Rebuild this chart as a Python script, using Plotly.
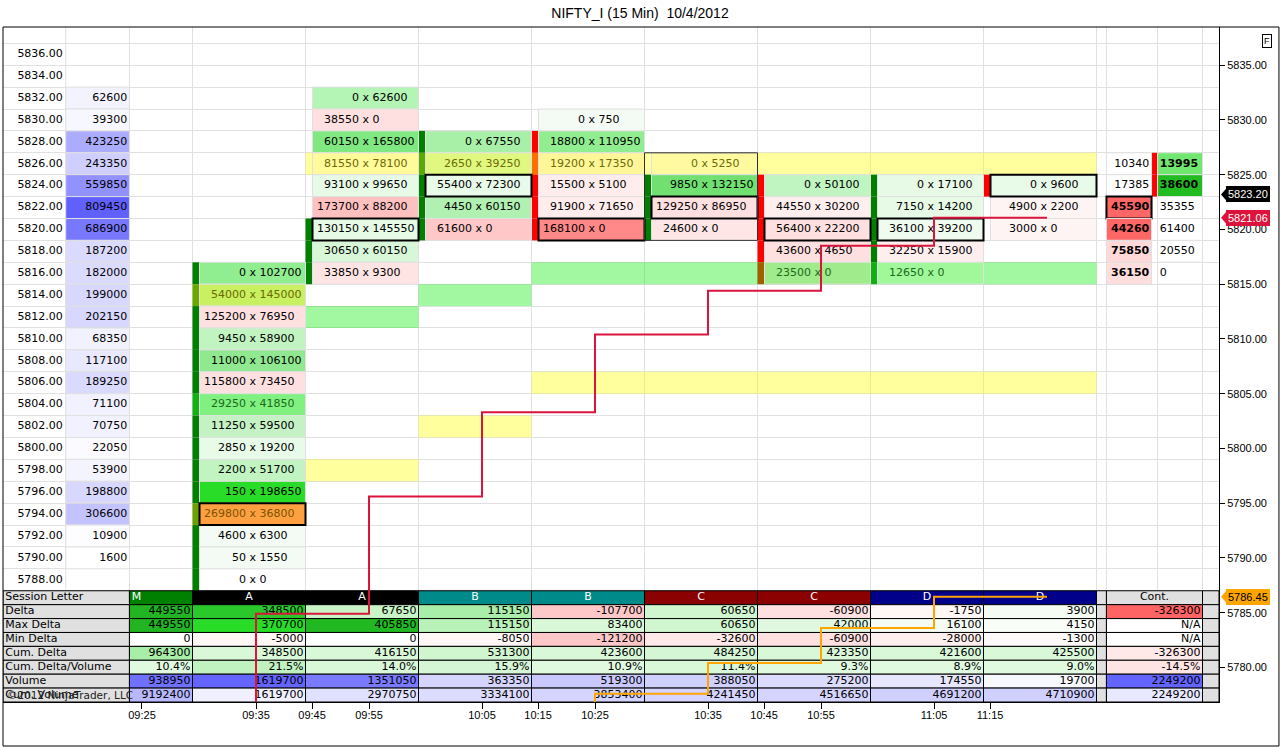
"""NIFTY_I 15-min footprint chart (10/4/2012) with session summary table."""

import plotly.graph_objects as go

# ── Data ────────────────────────────────────────────────────────────────────
ROW_PRICES = [5836, 5834, 5832, 5830, 5828, 5826, 5824, 5822, 5820, 5818, 5816, 5814, 5812,
              5810, 5808, 5806, 5804, 5802, 5800, 5798, 5796, 5794, 5792, 5790, 5788]

PROFILE_PRICES = [5832, 5830, 5828, 5826, 5824, 5822, 5820, 5818, 5816, 5814, 5812,
                  5810, 5808, 5806, 5804, 5802, 5800, 5798, 5796, 5794, 5792, 5790]
PROFILE_VOLUMES = [62600, 39300, 423250, 243350, 559850, 809450, 686900, 187200, 182000, 199000, 202150,
                   68350, 117100, 189250, 71100, 70750, 22050, 53900, 198800, 306600, 10900, 1600]

# footprint bars, one list per bar (bid x ask at each price)
FP_PRICES = [
    [5816, 5814, 5812, 5810, 5808, 5806, 5804, 5802, 5800, 5798, 5796, 5794, 5792, 5790, 5788],
    [5832, 5830, 5828, 5826, 5824, 5822, 5820, 5818, 5816],
    [5828, 5826, 5824, 5822, 5820],
    [5830, 5828, 5826, 5824, 5822, 5820],
    [5826, 5824, 5822, 5820],
    [5824, 5822, 5820, 5818, 5816],
    [5824, 5822, 5820, 5818, 5816],
    [5824, 5822, 5820],
]
FP_BIDS = [
    [0, 54000, 125200, 9450, 11000, 115800, 29250, 11250, 2850, 2200, 150, 269800, 4600, 50, 0],
    [0, 38550, 60150, 81550, 93100, 173700, 130150, 30650, 33850],
    [0, 2650, 55400, 4450, 61600],
    [0, 18800, 19200, 15500, 91900, 168100],
    [0, 9850, 129250, 24600],
    [0, 44550, 56400, 43600, 23500],
    [0, 7150, 36100, 32250, 12650],
    [0, 4900, 3000],
]
FP_ASKS = [
    [102700, 145000, 76950, 58900, 106100, 73450, 41850, 59500, 19200, 51700, 198650, 36800, 6300, 1550, 0],
    [62600, 0, 165800, 78100, 99650, 88200, 145550, 60150, 9300],
    [67550, 39250, 72300, 60150, 0],
    [750, 110950, 17350, 5100, 71650, 0],
    [5250, 132150, 86950, 0],
    [50100, 30200, 22200, 4650, 0],
    [17100, 14200, 39200, 15900, 0],
    [9600, 2200, 0],
]
# max-volume cells (boxed) per bar
FP_BOXED = [(0, 5794), (1, 5820), (2, 5824), (3, 5820), (4, 5822), (5, 5820), (6, 5820), (7, 5824)]
RANGE_BOX = (4, 5826, 5820)

# open/close body strip per bar
BODY_PRICES = [
    [5816, 5814, 5812, 5810, 5808, 5806, 5804, 5802, 5800, 5798, 5796, 5794, 5792, 5790, 5788],
    [5820, 5818, 5816],
    [5828, 5826, 5824, 5822, 5820],
    [5828, 5826, 5824, 5822, 5820],
    [5824, 5822, 5820],
    [5824, 5822, 5820, 5818, 5816],
    [5824, 5822, 5820, 5818, 5816],
    [5824],
]

# (price, first bar, last bar) of unfilled level highlights
HILITE_YELLOW = [(5826, 1, 7), (5806, 3, 7), (5802, 2, 2), (5798, 1, 1)]
HILITE_GREEN = [(5816, 3, 7), (5814, 2, 2), (5812, 1, 1)]

# right-hand ladder
LADDER_PRICES = [5826, 5824, 5822, 5820, 5818, 5816]
LADDER_BID = [103400, 173850, 455900, 442600, 75850, 36150]
LADDER_ASK = [139950, 386000, 353550, 61400, 20550, 0]

# step indicators
STEP_X = [-0.438, 0.562, 1.562, 2.562, 3.562, 4.562, 5.562, 6.562, 7.562]
RED_STEP = [5770.0, 5784.9, 5795.6, 5803.3, 5810.4, 5814.4, 5818.5, 5821.06, 5821.06]
ORANGE_STEP = [5770.0, 5777.6, 5780.4, 5783.6, 5786.45, 5786.45]
LAST_PRICE = 5823.20

# time axis
TICK_POS = [-0.447, 0.562, 1.058, 1.562, 2.562, 3.058, 3.562, 4.562, 5.058, 5.562, 6.562, 7.058]
TICK_TEXT = ["09:25", "09:35", "09:45", "09:55", "10:05", "10:15", "10:25",
             "10:35", "10:45", "10:55", "11:05", "11:15"]

# session table (M, A, A, B, B, C, C, D, D) + Cont.
TABLE_ROWS = ["Session Letter", "Delta", "Max Delta", "Min Delta", "Cum. Delta",
              "Cum. Delta/Volume", "Volume", "Cum. Volume"]
SESSION_LETTERS = ["M", "A", "A", "B", "B", "C", "C", "D", "D"]
DELTA = [449550, 348500, 67650, 115150, -107700, 60650, -60900, -1750, 3900]
MAX_DELTA = [449550, 370700, 405850, 115150, 83400, 60650, 42000, 16100, 4150]
MIN_DELTA = [0, -5000, 0, -8050, -121200, -32600, -60900, -28000, -1300]
CUM_DELTA = [964300, 348500, 416150, 531300, 423600, 484250, 423350, 421600, 425500]
CUM_DELTA_PCT = [10.4, 21.5, 14.0, 15.9, 10.9, 11.4, 9.3, 8.9, 9.0]
VOLUME = [938950, 1619700, 1351050, 363350, 519300, 388050, 275200, 174550, 19700]
CUM_VOLUME = [9192400, 1619700, 2970750, 3334100, 3853400, 4241450, 4516650, 4691200, 4710900]
CONT_DELTA = -326300
CONT_PCT = -14.5
CONT_VOLUME = 2249200

# ── Styles ──────────────────────────────────────────────────────────────────
CELL_FONT = "DejaVu Sans"
AXIS_FONT = "Liberation Sans"
GRID = "#e0e0e0"
G, R = "#007f00", "#ff0000"
OLIVE, BROWN, DKGREEN = "#6b6b00", "#7a5200", "#1a6a1a"

FP_FILLS = [
    ["#90ee90", "#c8f060", "#ffe0e0", "#c2f4c2", "#90e890", "#ffe0e0", "#80f080", "#c4f2c4",
     "#e8fae8", "#c2f4c2", "#28dc28", "#ffa040", "#f4fbf4", "#f4fbf4", "#ffffff"],
    ["#b4f4b4", "#ffe0e0", "#80e880", "#fffa9a", "#e6fae6", "#ffc0c0", "#e6fae6", "#d8f6d8", "#ffe4e4"],
    ["#a8f0a8", "#e0f880", "#e8fae8", "#b0f0b0", "#ffc8c8"],
    ["#f4fbf4", "#90ee90", "#fff69a", "#ffecec", "#ffecec", "#ff8888"],
    ["#fffaa0", "#70e070", "#ffe0e0", "#ffe6e6"],
    ["#c0f4c0", "#ffeeee", "#ffe0e0", "#ffe0e0", "#a0ec8c"],
    ["#e6fae6", "#e6fae6", "#f0fbf0", "#ffeeee", "#a0f89a"],
    ["#e8fae8", "#fff4f4", "#fff4f4"],
]
FP_INK = {(0, 5814): OLIVE, (1, 5826): OLIVE, (2, 5826): OLIVE, (3, 5826): OLIVE, (4, 5826): OLIVE,
          (0, 5794): BROWN, (0, 5804): DKGREEN, (5, 5816): DKGREEN, (6, 5816): DKGREEN}
BODY_COLORS = [
    [G, "#6aa800", G, G, G, G, "#12b012", G, G, G, G, "#6aa000", G, G, G],
    [G, G, G],
    [G, "#5aaa00", G, G, G],
    [R, "#ff7000", R, R, R],
    [G, G, G],
    [R, R, R, R, "#a06000"],
    [G, G, G, G, "#10b010"],
    [R],
]
LADDER_BID_FILL = ["#ffffff", "#ffffff", "#ff6666", "#ff6666", "#ffd8d8", "#ffdede"]
LADDER_ASK_FILL = ["#70e870", "#22bb22", "#ffffff", "#ffffff", "#ffffff", "#ffffff"]

TABLE_FILLS = [
    ["#008000", "#000000", "#000000", "#008b8b", "#008b8b", "#8b0000", "#8b0000", "#00008b", "#00008b", "#e0e0e0"],
    ["#22b422", "#2ac82a", "#c8f4c8", "#a8eea8", "#ffc8c8", "#d0f6d0", "#ffe0e0", "#fff6f6", "#f4fcf4", "#ff6464"],
    ["#22b422", "#28dc28", "#22b822", "#b8f2b8", "#d8f8d8", "#d0f6d0", "#e0f8e0", "#f4fcf4", "#f8fdf8", "#ffffff"],
    ["#ffffff", "#fff6f6", "#ffffff", "#fff6f6", "#ffc8c8", "#ffe8e8", "#ffe0e0", "#ffeeee", "#fffafa", "#ffffff"],
    ["#a8eea8", "#d8f8d8", "#d8f8d8", "#d0f6d0", "#d8f8d8", "#d4f6d4", "#d8f8d8", "#d8f8d8", "#d8f8d8", "#ffe8e8"],
    ["#e0fae0", "#c0f2c0", "#d8f8d8", "#d4f6d4", "#e0fae0", "#d8f8d8", "#e0fae0", "#e0fae0", "#e0fae0", "#ffe4e4"],
    ["#7070ff", "#6464ff", "#7a7aff", "#d4d4ff", "#c8c8ff", "#d0d0ff", "#dcdcff", "#e6e6ff", "#f8f8ff", "#6464ff"],
    ["#b8b8ff", "#f0f0ff", "#e0e0ff", "#dcdcff", "#d4d4ff", "#d4d4ff", "#d4d4ff", "#d0d0ff", "#d0d0ff", "#e8e8ff"],
]

# ── Geometry (x: one unit per footprint bar, y: price) ─────────────────────
X_RANGE = [-1.677, 9.084]
Y_RANGE = [5776.84, 5838.49]
ROW_H = 2.0
STRIP_W = 0.062
CELL_MID = 0.531
PRICE_COL = (-1.677, -1.122)
PROFILE_COL = (-1.122, -0.558)
M_COL = (-0.558, 0.0)
GAP_COL = (8.0, 8.088)
LAD_BID_COL = (8.088, 8.487)
LAD_STRIP = (8.487, 8.54)
LAD_ASK_COL = (8.54, 8.938)
CONT_COL = (8.088, 8.938)
V_LINES = [-1.122, -0.558, 0, 1, 2, 3, 4, 5, 6, 7, 8, 8.088, 8.54, 8.938]
TABLE_TOP = 5787.0
TABLE_ROW_H = (TABLE_TOP - Y_RANGE[0]) / len(TABLE_ROWS)


def hbar(x0, x1, y, thick, fill, line_color=GRID, line_width=1, **marker):
    return go.Bar(
        orientation="h", base=list(x0), x=[b - a for a, b in zip(x0, x1)], y=list(y),
        width=thick, marker=dict(color=fill, line=dict(color=line_color, width=line_width), **marker),
        hoverinfo="skip", showlegend=False,
    )


def label(x, y, text, pos, color="black", size=11, family=CELL_FONT):
    return go.Scatter(
        x=list(x), y=list(y), text=list(text), mode="text", textposition=pos,
        textfont=dict(family=family, size=size, color=color),
        hoverinfo="skip", showlegend=False, cliponaxis=False,
    )


fig = go.Figure()

# ── highlight levels (under everything) ──
for rows, rgba in ((HILITE_YELLOW, "rgba(255,255,0,0.38)"), (HILITE_GREEN, "rgba(0,235,0,0.37)")):
    fig.add_trace(hbar([a for _, a, _ in rows], [b + 1 for _, _, b in rows], [p for p, _, _ in rows],
                       ROW_H, rgba, line_width=0))

# ── volume profile ──
fig.add_trace(hbar([PROFILE_COL[0]] * len(PROFILE_PRICES), [PROFILE_COL[1]] * len(PROFILE_PRICES),
                   PROFILE_PRICES, ROW_H, PROFILE_VOLUMES,
                   colorscale=[[0, "#ffffff"], [1, "#6060ff"]], cmin=0, cmax=max(PROFILE_VOLUMES)))

# ── body strips ──
sx, sy, sc = [], [], []
for k, (prices, colors) in enumerate(zip(BODY_PRICES, BODY_COLORS)):
    sx += [k] * len(prices)
    sy += prices
    sc += colors
sx += [LAD_STRIP[0]] * 2
sy += LADDER_PRICES[:2]
sc += [R, R]
strip_w = [STRIP_W] * (len(sx) - 2) + [LAD_STRIP[1] - LAD_STRIP[0]] * 2
fig.add_trace(hbar(sx, [a + w for a, w in zip(sx, strip_w)], sy, ROW_H, sc, line_width=0))

# ── footprint cells ──
cx, cy, cf, lc, lw = [], [], [], [], []
bid_txt, ask_txt, ink, tx, ty = [], [], [], [], []
for k in range(len(FP_PRICES)):
    for p, b, a, f in zip(FP_PRICES[k], FP_BIDS[k], FP_ASKS[k], FP_FILLS[k]):
        boxed = (k, p) in FP_BOXED
        cx.append(k + STRIP_W)
        cy.append(p)
        cf.append(f)
        lc.append("#000000" if boxed else GRID)
        lw.append(2 if boxed else 1)
        tx.append(k + CELL_MID)
        ty.append(p)
        bid_txt.append(f"{b} x")
        ask_txt.append(str(a))
        ink.append(FP_INK.get((k, p), "#000000"))
order = sorted(range(len(cx)), key=lambda i: lw[i])  # boxed cells last
fig.add_trace(hbar([cx[i] for i in order], [int(cx[i]) + 1 for i in order], [cy[i] for i in order],
                   ROW_H, [cf[i] for i in order], [lc[i] for i in order], [lw[i] for i in order]))

k, top, bot = RANGE_BOX
fig.add_trace(hbar([k], [k + 1], [(top + bot) / 2], top - bot + ROW_H, "rgba(0,0,0,0)", "#303030", 1))

# ── ladder on the right ──
n = len(LADDER_PRICES)
fig.add_trace(hbar([LAD_BID_COL[0]] * n, [LAD_BID_COL[1]] * n, LADDER_PRICES, ROW_H, LADDER_BID_FILL,
                   ["#000000" if i == 2 else GRID for i in range(n)], [2 if i == 2 else 1 for i in range(n)]))
fig.add_trace(hbar([LAD_ASK_COL[0]] * n, [LAD_ASK_COL[1]] * n, LADDER_PRICES, ROW_H, LADDER_ASK_FILL))

# ── session table ──
t_x0 = [X_RANGE[0], M_COL[0]] + list(range(8)) + [GAP_COL[0], CONT_COL[0], CONT_COL[1]]
t_x1 = [M_COL[0], 0] + list(range(1, 9)) + [GAP_COL[1], CONT_COL[1], X_RANGE[1]]
row_y = [TABLE_TOP - (r + 0.5) * TABLE_ROW_H for r in range(len(TABLE_ROWS))]
bx0, bx1, by, bf = [], [], [], []
for r, fills in enumerate(TABLE_FILLS):
    row_fill = ["#e0e0e0"] + fills[:9] + ["#e0e0e0", fills[9], "#e0e0e0"]
    bx0 += t_x0
    bx1 += t_x1
    by += [row_y[r]] * len(t_x0)
    bf += row_fill
fig.add_trace(hbar(bx0, bx1, by, TABLE_ROW_H, bf, "#000000", 1))

# ── texts ──
fig.add_trace(label([PRICE_COL[1] - 0.025] * len(ROW_PRICES), ROW_PRICES,
                    [f"{p:.2f}" for p in ROW_PRICES], "middle left"))
fig.add_trace(label([PROFILE_COL[1] - 0.02] * len(PROFILE_PRICES), PROFILE_PRICES,
                    [str(v) for v in PROFILE_VOLUMES], "middle left"))
fig.add_trace(label([x + 0.031 for x in tx], ty, bid_txt, "middle left", ink))
fig.add_trace(label([x + 0.062 for x in tx], ty, ask_txt, "middle right", ink))
fig.add_trace(label([LAD_BID_COL[1] - 0.02] * n, LADDER_PRICES,
                    [(f"<b>{str(v)[:5]}</b>" if i >= 2 else str(v)[:5]) for i, v in enumerate(LADDER_BID)],
                    "middle left"))
fig.add_trace(label([LAD_ASK_COL[0] + 0.02] * n, LADDER_PRICES,
                    [(f"<b>{str(v)[:5]}</b>" if i < 2 else str(v)[:5]) for i, v in enumerate(LADDER_ASK)],
                    "middle right"))

fig.add_trace(label([X_RANGE[0] + 0.02] * len(TABLE_ROWS), row_y, TABLE_ROWS, "middle right"))
fig.add_trace(label([M_COL[0] + 0.02], row_y[:1], SESSION_LETTERS[:1], "middle right", "white"))
fig.add_trace(label([k + 0.5 for k in range(8)] + [sum(CONT_COL) / 2], row_y[:1] * 9,
                    SESSION_LETTERS[1:] + ["Cont."], "middle center",
                    ["white"] * 8 + ["black"]))
right_edges = [0] + list(range(1, 9)) + [CONT_COL[1]]
table_text = [
    [str(v) for v in DELTA] + [str(CONT_DELTA)],
    [str(v) for v in MAX_DELTA] + ["N/A"],
    [str(v) for v in MIN_DELTA] + ["N/A"],
    [str(v) for v in CUM_DELTA] + [str(CONT_DELTA)],
    [f"{v:.1f}%" for v in CUM_DELTA_PCT] + [f"{CONT_PCT:.1f}%"],
    [str(v) for v in VOLUME] + [str(CONT_VOLUME)],
    [str(v) for v in CUM_VOLUME] + [str(CONT_VOLUME)],
]
vx, vy, vt = [], [], []
for r, texts in enumerate(table_text, start=1):
    vx += [e - 0.018 for e in right_edges]
    vy += [row_y[r]] * len(texts)
    vt += texts
fig.add_trace(label(vx, vy, vt, "middle left"))

# ── step indicators ──
fig.add_trace(go.Scatter(x=STEP_X, y=RED_STEP, mode="lines", line=dict(color="#dc143c", width=2, shape="hv"),
                         hoverinfo="skip", showlegend=False))
fig.add_trace(go.Scatter(x=STEP_X[-len(ORANGE_STEP):], y=ORANGE_STEP, mode="lines",
                         line=dict(color="#ffa500", width=2, shape="hv"), hoverinfo="skip", showlegend=False))

# ── price tags on the axis ──
tags = [(LAST_PRICE, "#000000", "white"), (RED_STEP[-1], "#dc143c", "white"), (ORANGE_STEP[-1], "#ffa500", "black")]
annotations = [
    dict(x=1, xref="paper", xanchor="left", xshift=7, y=v, yref="y", text=f"{v:.2f}", showarrow=False,
         bgcolor=bg, bordercolor=bg, borderpad=1, font=dict(family=AXIS_FONT, size=11, color=fg))
    for v, bg, fg in tags
]
annotations += [
    dict(x=1.0436, xref="paper", y=0.9896, yref="paper", text="F", showarrow=False,
         font=dict(family=AXIS_FONT, size=9, color="black"), bordercolor="black", borderwidth=1, borderpad=1),
    dict(x=0.0016, xref="paper", xanchor="left", y=row_y[-1], yref="y", text="©2012 NinjaTrader, LLC",
         showarrow=False, font=dict(family=CELL_FONT, size=10.5, color="#222222")),
]

shapes = [
    dict(type="line", xref="x", yref="y", x0=v, x1=v, y0=TABLE_TOP, y1=Y_RANGE[1],
         line=dict(color=GRID, width=1), layer="below")
    for v in V_LINES
]
shapes += [
    dict(type="path", xref="paper", yref="y", xsizemode="pixel", ysizemode="pixel", xanchor=1, yanchor=v,
         path="M 2 0 L 9 -8 L 9 8 Z", fillcolor=bg, line=dict(width=0))
    for v, bg, _ in tags
]
shapes.append(dict(type="rect", xref="paper", yref="paper", x0=0, x1=1.0493, y0=-0.0652, y1=1,
                   line=dict(color="black", width=1)))

fig.update_layout(
    width=1280, height=747,
    margin=dict(l=3, r=61, t=27, b=45),
    paper_bgcolor="white", plot_bgcolor="white",
    barmode="overlay",
    title=dict(text="NIFTY_I (15 Min)\u00a0 10/4/2012", x=0.5, xref="container", xanchor="center",
               y=1 - 13 / 747, yref="container", yanchor="middle",
               font=dict(family=AXIS_FONT, size=14, color="black")),
    xaxis=dict(range=X_RANGE, tickmode="array", tickvals=TICK_POS, ticktext=TICK_TEXT,
               ticks="outside", ticklen=6, tickcolor="black", showgrid=False, zeroline=False,
               showline=True, linecolor="black", ticklabelstandoff=-3,
               tickfont=dict(family=AXIS_FONT, size=11, color="black")),
    yaxis=dict(range=Y_RANGE, side="right", tick0=5775, dtick=5, tickformat=".2f", ticks="outside",
               ticklen=5, tickcolor="black", showgrid=False, zeroline=False, showline=True, linecolor="black",
               tickfont=dict(family=AXIS_FONT, size=11, color="black"),
               minor=dict(tickmode="array", tickvals=list(range(5787, 5838, 2)), showgrid=True,
                          gridcolor=GRID, gridwidth=1, ticks="")),
    annotations=annotations,
    shapes=shapes,
)

fig.write_html("out.html", config={"displayModeBar": False},
               post_script="document.body.style.margin = '0';")
